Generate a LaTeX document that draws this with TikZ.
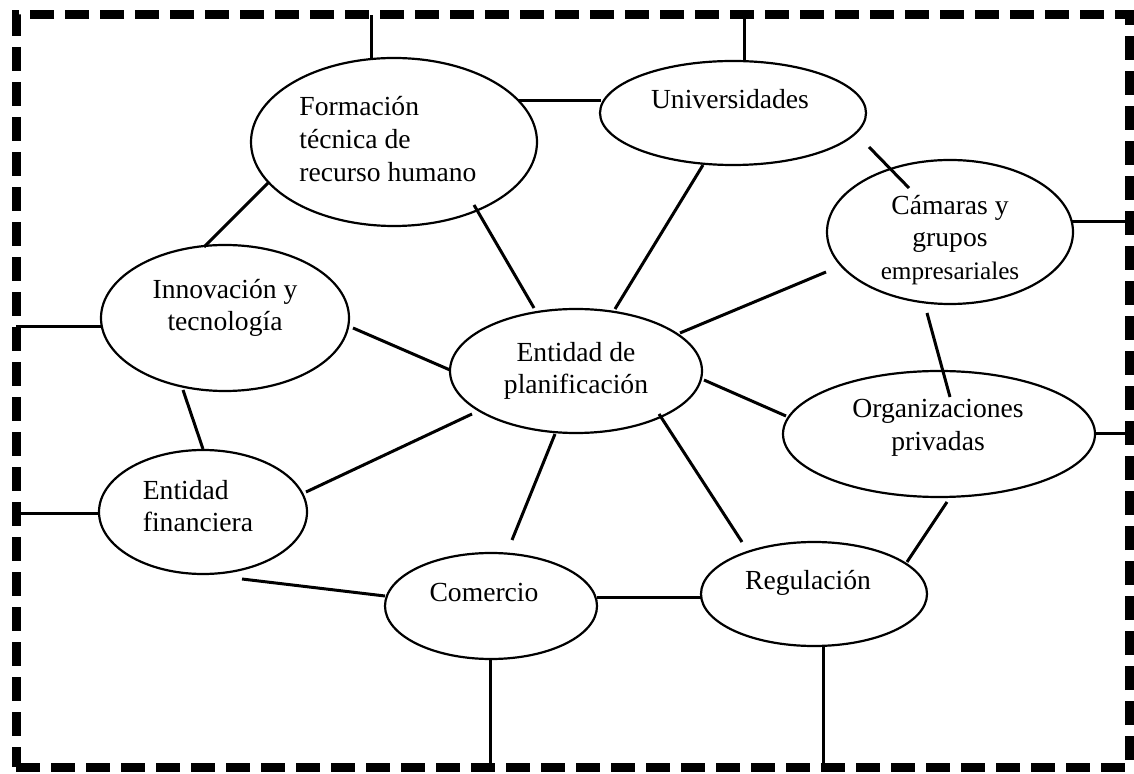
\documentclass[tikz,border=0pt]{standalone}
\usepackage{fontspec}
\setmainfont{Liberation Serif}
\usetikzlibrary{shapes.geometric}
\begin{document}
\begin{tikzpicture}[x=0.5pt,y=-0.5pt,
  ell/.style={ellipse,draw,line width=1.1pt,inner sep=0pt,outer sep=0pt},
  txt/.style={inner sep=0pt,outer sep=0pt,font=\fontsize{13.8pt}{16.3pt}\selectfont},
  conn/.style={line width=1.5pt},
  framebox/.style={draw,line width=4.5pt,dash pattern=on 12pt off 5.5pt,inner sep=0pt,outer sep=0pt,minimum width=556.5pt,minimum height=376pt}]
\useasboundingbox (0,0) rectangle (1134,774);
\node[framebox] (frame) at (572.5,391) {};
% ellipses
\node[ell,minimum width=143pt,minimum height=84pt] (form) at (394,142) {};
\node[ell,minimum width=133pt,minimum height=52pt] (univ) at (733,113) {};
\node[ell,minimum width=123pt,minimum height=72pt] (cam) at (950,232) {};
\node[ell,minimum width=124pt,minimum height=73pt] (innov) at (225,318) {};
\node[ell,minimum width=126pt,minimum height=62pt] (plan) at (576,371) {};
\node[ell,minimum width=156pt,minimum height=63pt] (org) at (939,434) {};
\node[ell,minimum width=104pt,minimum height=62pt] (fin) at (203,512) {};
\node[ell,minimum width=106pt,minimum height=53pt] (com) at (491,606) {};
\node[ell,minimum width=113pt,minimum height=52pt] (reg) at (814,594) {};
% texts
\node[txt,align=left] (form-t) at (388,139) {Formación\\técnica de\\recurso humano};
\node[txt] (univ-t) at (730,99) {Universidades};
\node[txt,align=center] (cam-t) at (950,240) {Cámaras y\\grupos\\{\fontsize{12.6pt}{15pt}\selectfont empresariales}};
\node[txt,align=center] (innov-t) at (225,308) {Innovación y\\tecnología};
\node[txt,align=center] (plan-t) at (576,371) {Entidad de\\planificación};
\node[txt,align=center] (org-t) at (938,428) {Organizaciones\\privadas};
\node[txt,align=left] (fin-t) at (198,506) {Entidad\\financiera};
\node[txt] (com-t) at (484,592) {Comercio};
\node[txt] (reg-t) at (808,583) {Regulación};
% connectors to frame
\coordinate (f1) at ([shift={(-23,-83)}]form.center);
\coordinate (f2) at ([shift={(11,-52)}]univ.center);
\coordinate (f3) at ([shift={(122,-10)}]cam.center);
\coordinate (f4) at ([shift={(156,0)}]org.center);
\coordinate (f5) at ([shift={(-123,9)}]innov.center);
\coordinate (f6) at ([shift={(-104,1)}]fin.center);
\coordinate (f7) at ([shift={(-1,53)}]com.center);
\coordinate (f8) at ([shift={(9,52)}]reg.center);
\draw[conn] (f1) -- (f1 |- frame.north);
\draw[conn] (f2) -- (f2 |- frame.north);
\draw[conn] (f3) -- (f3 -| frame.east);
\draw[conn] (f4) -- (f4 -| frame.east);
\draw[conn] (f5) -- (f5 -| frame.west);
\draw[conn] (f6) -- (f6 -| frame.west);
\draw[conn] (f7) -- (f7 |- frame.south);
\draw[conn] (f8) -- (f8 |- frame.south);
% connectors between ellipses
\draw[conn] ([shift={(124,-41)}]form.center) -- ([shift={(-132,-12)}]univ.center);
\draw[conn] ([shift={(-126,41)}]form.center) -- ([shift={(-21,-71)}]innov.center);
\draw[conn] ([shift={(80,63)}]form.center) -- ([shift={(-42,-63)}]plan.center);
\draw[conn] ([shift={(136,34)}]univ.center) -- ([shift={(-41,-44)}]cam.center);
\draw[conn] ([shift={(-30,52)}]univ.center) -- ([shift={(39,-62)}]plan.center);
\draw[conn] ([shift={(-124,40)}]cam.center) -- ([shift={(104,-38)}]plan.center);
\draw[conn] ([shift={(-23,81)}]cam.center) -- ([shift={(11,-37)}]org.center);
\draw[conn] ([shift={(128,10)}]innov.center) -- ([shift={(-126,-1)}]plan.center);
\draw[conn] ([shift={(-42,72)}]innov.center) -- ([shift={(0,-63)}]fin.center);
\draw[conn] ([shift={(103,-20)}]fin.center) -- ([shift={(-104,43)}]plan.center);
\draw[conn] ([shift={(39,67)}]fin.center) -- ([shift={(-106,-10)}]com.center);
\draw[conn] ([shift={(-21,63)}]plan.center) -- ([shift={(21,-66)}]com.center);
\draw[conn] ([shift={(128,9)}]plan.center) -- ([shift={(-153,-18)}]org.center);
\draw[conn] ([shift={(83,43)}]plan.center) -- ([shift={(-72,-52)}]reg.center);
\draw[conn] ([shift={(8,68)}]org.center) -- ([shift={(93,-32)}]reg.center);
\draw[conn] ([shift={(106,-9)}]com.center) -- ([shift={(-113,3)}]reg.center);
\end{tikzpicture}
\end{document}
